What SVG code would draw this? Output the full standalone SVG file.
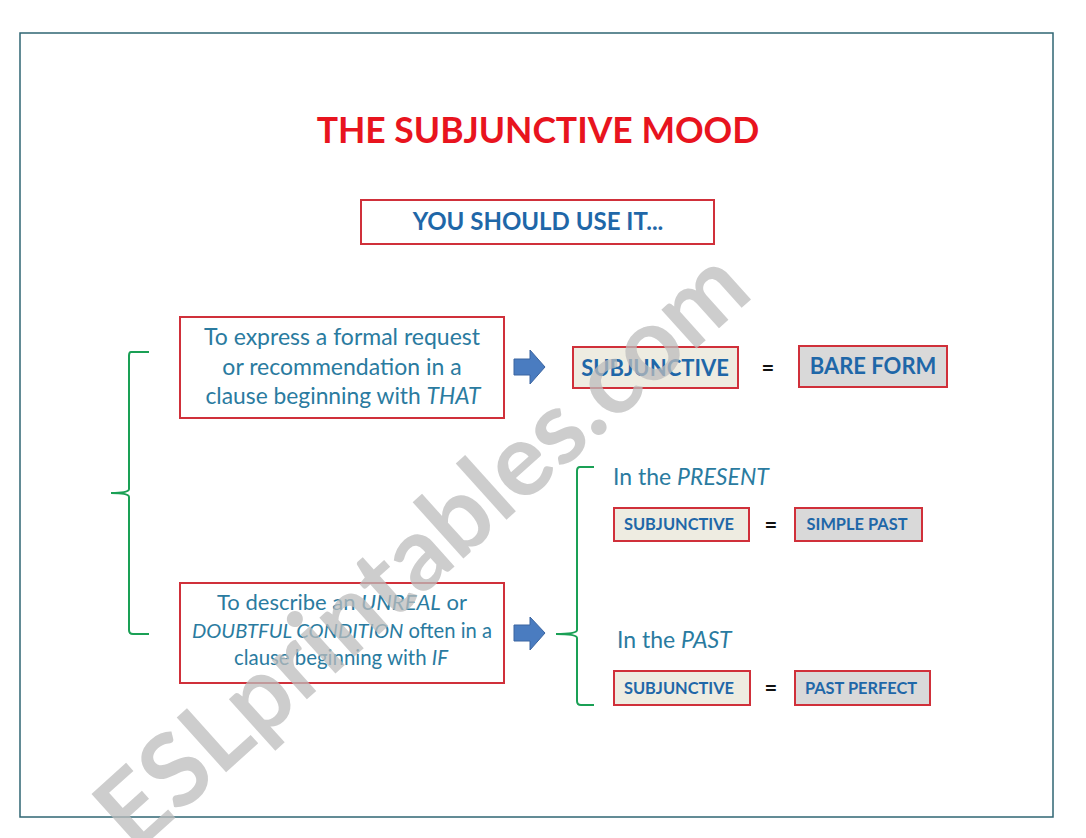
<svg xmlns="http://www.w3.org/2000/svg" width="1086" height="838" viewBox="0 0 1086 838">
<defs>
<style>
.frame{fill:none;stroke:#2f6673;stroke-width:1.5}
.box{fill:#fff;stroke:#d0303a;stroke-width:2}
.beige{fill:#eeece1;stroke:#d0303a;stroke-width:2}
.gray{fill:#d9d9d9;stroke:#d0303a;stroke-width:2}
.t{font-family:Lato,"Open Sans",sans-serif}
.desc{fill:#2a7ba0;text-anchor:middle}
.lbl{font-weight:bold;fill:#1f67a8;text-anchor:middle}
.brace{fill:none;stroke:#1aa055;stroke-width:2}
.arrow{fill:#4a7cc0;stroke:#3a64a0;stroke-width:1}
.eq{font-size:22px;font-weight:bold;fill:#111;text-anchor:middle}
</style>
</defs>
<rect class="frame" x="20" y="33" width="1033" height="784"/>
<g id="title"><text class="t" x="538" y="143" font-size="35.5" font-weight="bold" fill="#e8141e" text-anchor="middle">THE SUBJUNCTIVE MOOD</text></g>
<g id="use"><rect class="box" x="361" y="200" width="353" height="44"/><text class="t lbl" x="538" y="230" font-size="24">YOU SHOULD USE IT...</text></g>
<g id="formal"><rect class="box" x="180" y="317" width="324" height="101"/>
<text class="t desc" x="342" y="345" font-size="23">To express a formal request</text>
<text class="t desc" x="342" y="375" font-size="23">or recommendation in a</text>
<text class="t desc" x="343" y="404" font-size="22.8">clause beginning with <tspan font-style="italic">THAT</tspan></text></g>
<g id="unreal"><rect class="box" x="180" y="583" width="324" height="100"/>
<text class="t desc" x="342" y="610" font-size="22">To describe an <tspan font-style="italic">UNREAL</tspan> or</text>
<text class="t desc" x="342" y="638" font-size="20.2"><tspan font-style="italic">DOUBTFUL CONDITION</tspan> often in a</text>
<text class="t desc" x="341" y="665" font-size="20.4">clause beginning with <tspan font-style="italic">IF</tspan></text></g>
<g id="sub1"><rect class="beige" x="573" y="347" width="165" height="41"/><text class="t lbl" x="655" y="376" font-size="22">SUBJUNCTIVE</text></g>
<g id="bare"><rect class="gray" x="799" y="346" width="148" height="41"/><text class="t lbl" x="873" y="374" font-size="22">BARE FORM</text></g>
<g id="present"><text class="t" x="613" y="485" font-size="23" fill="#2a7ba0">In the <tspan font-style="italic">PRESENT</tspan></text></g>
<g id="sub2"><rect class="beige" x="614" y="508" width="135" height="33"/><text class="t lbl" x="679" y="530" font-size="16.4">SUBJUNCTIVE</text></g>
<g id="simple"><rect class="gray" x="795" y="508" width="127" height="33"/><text class="t lbl" x="857" y="530" font-size="16.4">SIMPLE PAST</text></g>
<g id="past"><text class="t" x="617" y="648" font-size="23" fill="#2a7ba0">In the <tspan font-style="italic">PAST</tspan></text></g>
<g id="sub3"><rect class="beige" x="614" y="671" width="136" height="34"/><text class="t lbl" x="679" y="694" font-size="16.4">SUBJUNCTIVE</text></g>
<g id="perfect"><rect class="gray" x="795" y="671" width="135" height="34"/><text class="t lbl" x="861" y="694" font-size="16.4">PAST PERFECT</text></g>
<g id="connectors">
<path class="brace" d="M149 352 H131 Q129 352 129 356 V489 Q129 493 111 493 Q129 493 129 497 V630 Q129 634 133 634 H149"/>
<path class="brace" d="M594 467 H580 Q577 467 577 471 V630 Q577 634 556 634 Q577 634 577 638 V701 Q577 705 581 705 H594"/>
<path class="arrow" d="M514 359 H530 V350 L545 367 L530 384 V375 H514 Z"/>
<path class="arrow" d="M514 625 H530 V617 L545 633 L530 650 V641 H514 Z"/>
<text class="t eq" x="768" y="376">=</text>
<text class="t eq" x="771" y="533">=</text>
<text class="t eq" x="771" y="696">=</text>
</g>
<g id="watermark"><text class="t" x="0" y="0" font-size="102" font-weight="bold" fill="#bcbcbc" fill-opacity="0.75" text-anchor="middle" transform="translate(445 575) rotate(-42)">ESLprintables.com</text></g>
</svg>
